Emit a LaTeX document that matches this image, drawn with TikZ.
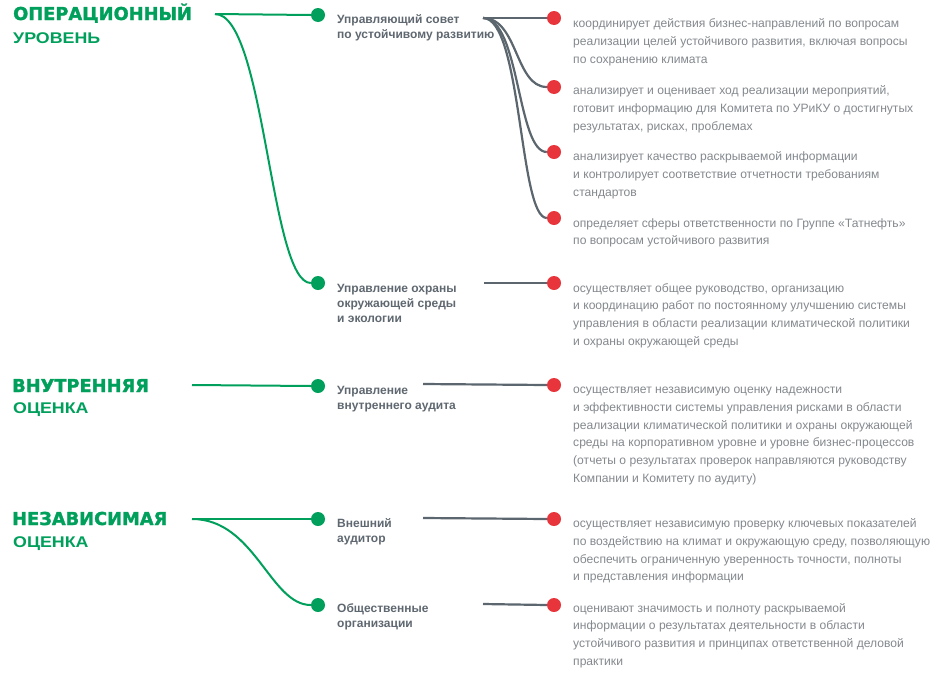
\documentclass[tikz,border=0pt]{standalone}
\usepackage{fontspec}
\setmainfont{Liberation Sans}
\newfontfamily\headA[BoldFeatures={FakeBold=1.6}]{DejaVu Sans}
\newfontfamily\headB[FakeStretch=1.15]{Liberation Sans}
\definecolor{tgreen}{RGB}{0,160,92}
\definecolor{tred}{RGB}{232,52,59}
\definecolor{lgrey}{RGB}{92,102,110}
\definecolor{ngrey}{RGB}{95,104,112}
\definecolor{tgrey}{RGB}{132,137,142}
\newcommand\mlines[1]{\vtop{\halign{##\hfil\cr#1\crcr}}}
\tikzset{
  gdot/.style={circle, fill=tgreen, minimum size=14pt, inner sep=0pt},
  rdot/.style={circle, fill=tred, minimum size=14pt, inner sep=0pt},
  glink/.style={draw=tgreen, line width=2pt},
  klink/.style={draw=lgrey, line width=2.2pt},
  lbl/.style={anchor=base west, inner sep=0pt, text=ngrey, font=\fontsize{12}{15.3}\selectfont\bfseries},
  desc/.style={anchor=base west, inner sep=0pt, text=tgrey, font=\fontsize{12.1}{17.8}\selectfont},
  headone/.style={anchor=base west, inner sep=0pt, text=tgreen, font=\headA\bfseries\fontsize{17.8}{20}\selectfont},
  headtwo/.style={anchor=base west, inner sep=0pt, text=tgreen, font=\headB\bfseries\fontsize{15.5}{18}\selectfont},
}
\begin{document}
\begin{tikzpicture}[x=1pt,y=-1pt]
\useasboundingbox[fill=white] (0,0) rectangle (945,691);
% headings
\node[headone] (hop1) at (13,20) {ОПЕРАЦИОННЫЙ};
\node[headtwo] (hop2) at (13,43) {УРОВЕНЬ};
\node[headone] (hvn1) at (12,392) {ВНУТРЕННЯЯ};
\node[headtwo] (hvn2) at (13,413) {ОЦЕНКА};
\node[headone] (hnz1) at (12,525) {НЕЗАВИСИМАЯ};
\node[headtwo] (hnz2) at (13,547) {ОЦЕНКА};
% start coordinates
\coordinate (sop) at (215,14);
\coordinate (svn) at (192,385);
\coordinate (snz) at (192,519);
\coordinate (k1) at (483,18);
\coordinate (k5) at (484,283);
\coordinate (k6) at (423,384);
\coordinate (k7) at (423,518);
\coordinate (k8) at (483,604);
% dots
\node[gdot] (g1) at (318,15) {};
\node[gdot] (g2) at (318,283) {};
\node[gdot] (g3) at (318,386) {};
\node[gdot] (g4) at (318,519) {};
\node[gdot] (g5) at (318,605) {};
\node[rdot] (r1) at (554,18) {};
\node[rdot] (r2) at (554,87) {};
\node[rdot] (r3) at (554,152) {};
\node[rdot] (r4) at (554,218) {};
\node[rdot] (r5) at (554,283) {};
\node[rdot] (r6) at (554,385) {};
\node[rdot] (r7) at (554,519) {};
\node[rdot] (r8) at (554,605) {};
% green connectors
\draw[glink] (sop) -- (g1.west);
\draw[glink] (sop) .. controls (265,14) and (270,283) .. (g2.west);
\draw[glink] (svn) -- (g3.west);
\draw[glink] (snz) -- (g4.west);
\draw[glink] (snz) .. controls (255,519) and (270,605) .. (g5.west);
% grey connectors
\draw[klink] (k1) -- (r1.west);
\draw[klink] (k1) .. controls (518,18) and (515,87) .. (r2.west);
\draw[klink] (k1) .. controls (520,18) and (517,152) .. (r3.west);
\draw[klink] (k1) .. controls (522,18) and (519,218) .. (r4.west);
\draw[klink] (k5) -- (r5.west);
\draw[klink] (k6) -- (r6.west);
\draw[klink] (k7) -- (r7.west);
\draw[klink] (k8) -- (r8.west);
% labels
\node[lbl] (n1) at (337,23) {\mlines{Управляющий совет\cr по устойчивому развитию}};
\node[lbl] (n2) at (337,292) {\mlines{Управление охраны\cr окружающей среды\cr и экологии}};
\node[lbl] (n3) at (337,394) {\mlines{Управление\cr внутреннего аудита}};
\node[lbl] (n4) at (337,527) {\mlines{Внешний\cr аудитор}};
\node[lbl] (n5) at (337,612) {\mlines{Общественные\cr организации}};
% descriptions
\node[desc] (d1) at (573,27.5) {\mlines{координирует действия бизнес-направлений по вопросам\cr реализации целей устойчивого развития, включая вопросы\cr по сохранению климата}};
\node[desc] (d2) at (573,94.5) {\mlines{анализирует и оценивает ход реализации мероприятий,\cr готовит информацию для Комитета по УРиКУ о достигнутых\cr результатах, рисках, проблемах}};
\node[desc] (d3) at (573,160.5) {\mlines{анализирует качество раскрываемой информации\cr и контролирует соответствие отчетности требованиям\cr стандартов}};
\node[desc] (d4) at (573,227) {\mlines{определяет сферы ответственности по Группе «Татнефть»\cr по вопросам устойчивого развития}};
\node[desc] (d5) at (573,292) {\mlines{осуществляет общее руководство, организацию\cr и координацию работ по постоянному улучшению системы\cr управления в области реализации климатической политики\cr и охраны окружающей среды}};
\node[desc] (d6) at (573,393.5) {\mlines{осуществляет независимую оценку надежности\cr и эффективности системы управления рисками в области\cr реализации климатической политики и охраны окружающей\cr среды на корпоративном уровне и уровне бизнес-процессов\cr (отчеты о результатах проверок направляются руководству\cr Компании и Комитету по аудиту)}};
\node[desc] (d7) at (573,527.5) {\mlines{осуществляет независимую проверку ключевых показателей\cr по воздействию на климат и окружающую среду, позволяющую\cr обеспечить ограниченную уверенность точности, полноты\cr и представления информации}};
\node[desc] (d8) at (573,612) {\mlines{оценивают значимость и полноту раскрываемой\cr информации о результатах деятельности в области\cr устойчивого развития и принципах ответственной деловой\cr практики}};
\end{tikzpicture}
\end{document}
